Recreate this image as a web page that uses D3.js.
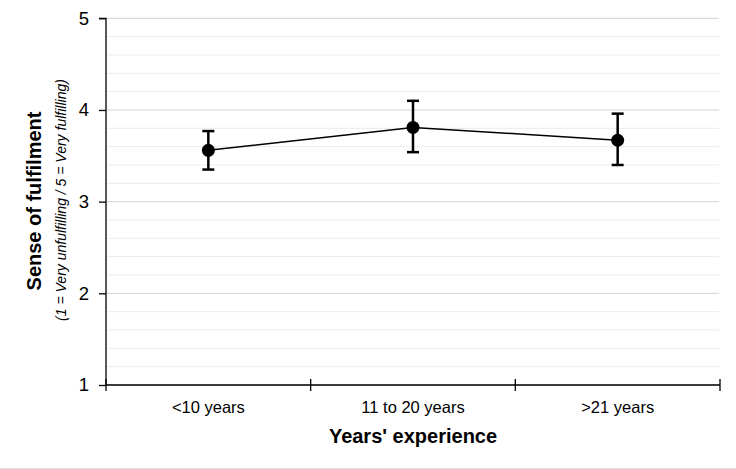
<!DOCTYPE html>
<html><head><meta charset="utf-8">
<script src="https://cdn.jsdelivr.net/npm/d3@7/dist/d3.min.js"></script>
<style>body{margin:0;background:#fff;}svg{display:block;font-family:"Liberation Sans",Arial,sans-serif;}</style>
</head><body><svg id="c" width="736" height="469"></svg>
<script>
const categories = ["<10 years", "11 to 20 years", ">21 years"];
const means = [3.56, 3.81, 3.67];
const upper = [3.77, 4.10, 3.96];
const lower = [3.35, 3.54, 3.40];
const yTicks = [1, 2, 3, 4, 5];
const yMinor = d3.range(1, 5.001, 0.2).map(v => +v.toFixed(1));

const svg = d3.select("#c");
const L = 106, R = 720, T = 18.3, B = 385;
const x = d3.scaleBand().domain(categories).range([L, R]);
const y = d3.scaleLinear().domain([1, 5]).range([B, T]);

// gridlines
svg.append("g").selectAll("line").data(yMinor).join("line")
  .attr("x1", L).attr("x2", R - 1)
  .attr("y1", d => y(d)).attr("y2", d => y(d))
  .attr("stroke", d => Number.isInteger(d) ? "#d3d3d3" : "#ececec")
  .attr("stroke-width", 1);

// y axis
const ya = svg.append("g").attr("transform", `translate(${L},0)`)
  .call(d3.axisLeft(y).tickValues(yTicks).tickFormat(d3.format("d")).tickSize(7).tickPadding(10));
ya.select(".domain").attr("stroke", "#000").attr("stroke-width", 1.3).attr("d", `M-7,${T}H0V${B}`);
ya.selectAll(".tick line").attr("stroke", "#000").attr("stroke-width", 1.3);
ya.selectAll(".tick text").attr("font-size", 18.5).attr("fill", "#000").attr("font-family", "Liberation Sans, Arial, sans-serif");

// x axis
const xa = svg.append("g").attr("transform", `translate(0,${B})`)
  .call(d3.axisBottom(x).tickSize(0).tickPadding(16));
xa.select(".domain").attr("stroke", "#000").attr("stroke-width", 1.3).attr("d", `M${L},0H${R}`);
xa.selectAll(".tick text").attr("font-size", 16.5).attr("fill", "#000").attr("font-family", "Liberation Sans, Arial, sans-serif");
// category boundary ticks
const bounds = [L].concat(categories.map(c => x(c) + x.bandwidth()));
svg.append("g").selectAll("line").data(bounds).join("line")
  .attr("x1", d => d).attr("x2", d => d)
  .attr("y1", B - 6).attr("y2", B + 6)
  .attr("stroke", "#000").attr("stroke-width", 1.3);

const cx = c => x(c) + x.bandwidth() / 2;

// line
svg.append("path").datum(categories)
  .attr("fill", "none").attr("stroke", "#000").attr("stroke-width", 1.5)
  .attr("d", d3.line().x(c => cx(c)).y((c, i) => y(means[i])));

// error bars
const eb = svg.append("g").selectAll("g").data(categories).join("g");
eb.append("line").attr("x1", c => cx(c)).attr("x2", c => cx(c))
  .attr("y1", (c, i) => y(upper[i])).attr("y2", (c, i) => y(lower[i]))
  .attr("stroke", "#000").attr("stroke-width", 2.5);
[upper, lower].forEach(arr => {
  eb.append("line").attr("x1", c => cx(c) - 6).attr("x2", c => cx(c) + 6)
    .attr("y1", (c, i) => y(arr[i])).attr("y2", (c, i) => y(arr[i]))
    .attr("stroke", "#000").attr("stroke-width", 2.5);
});

// points
svg.append("g").selectAll("circle").data(categories).join("circle")
  .attr("cx", c => cx(c)).attr("cy", (c, i) => y(means[i])).attr("r", 6.5).attr("fill", "#000");

// axis titles
svg.append("text").attr("x", (L + R) / 2).attr("y", 443).attr("text-anchor", "middle")
  .attr("font-size", 20).attr("font-weight", "bold").text("Years' experience");
svg.append("text").attr("transform", "translate(41,201) rotate(-90)").attr("text-anchor", "middle")
  .attr("font-size", 20).attr("font-weight", "bold").text("Sense of fulfilment");
svg.append("text").attr("transform", "translate(66,200) rotate(-90)").attr("text-anchor", "middle")
  .attr("font-size", 14).attr("font-style", "italic").text("(1 = Very unfulfilling / 5 = Very fulfilling)");

// bottom border line
svg.append("line").attr("x1", 0).attr("x2", 736).attr("y1", 468.5).attr("y2", 468.5)
  .attr("stroke", "#e0e0e0").attr("stroke-width", 1);
</script></body></html>
